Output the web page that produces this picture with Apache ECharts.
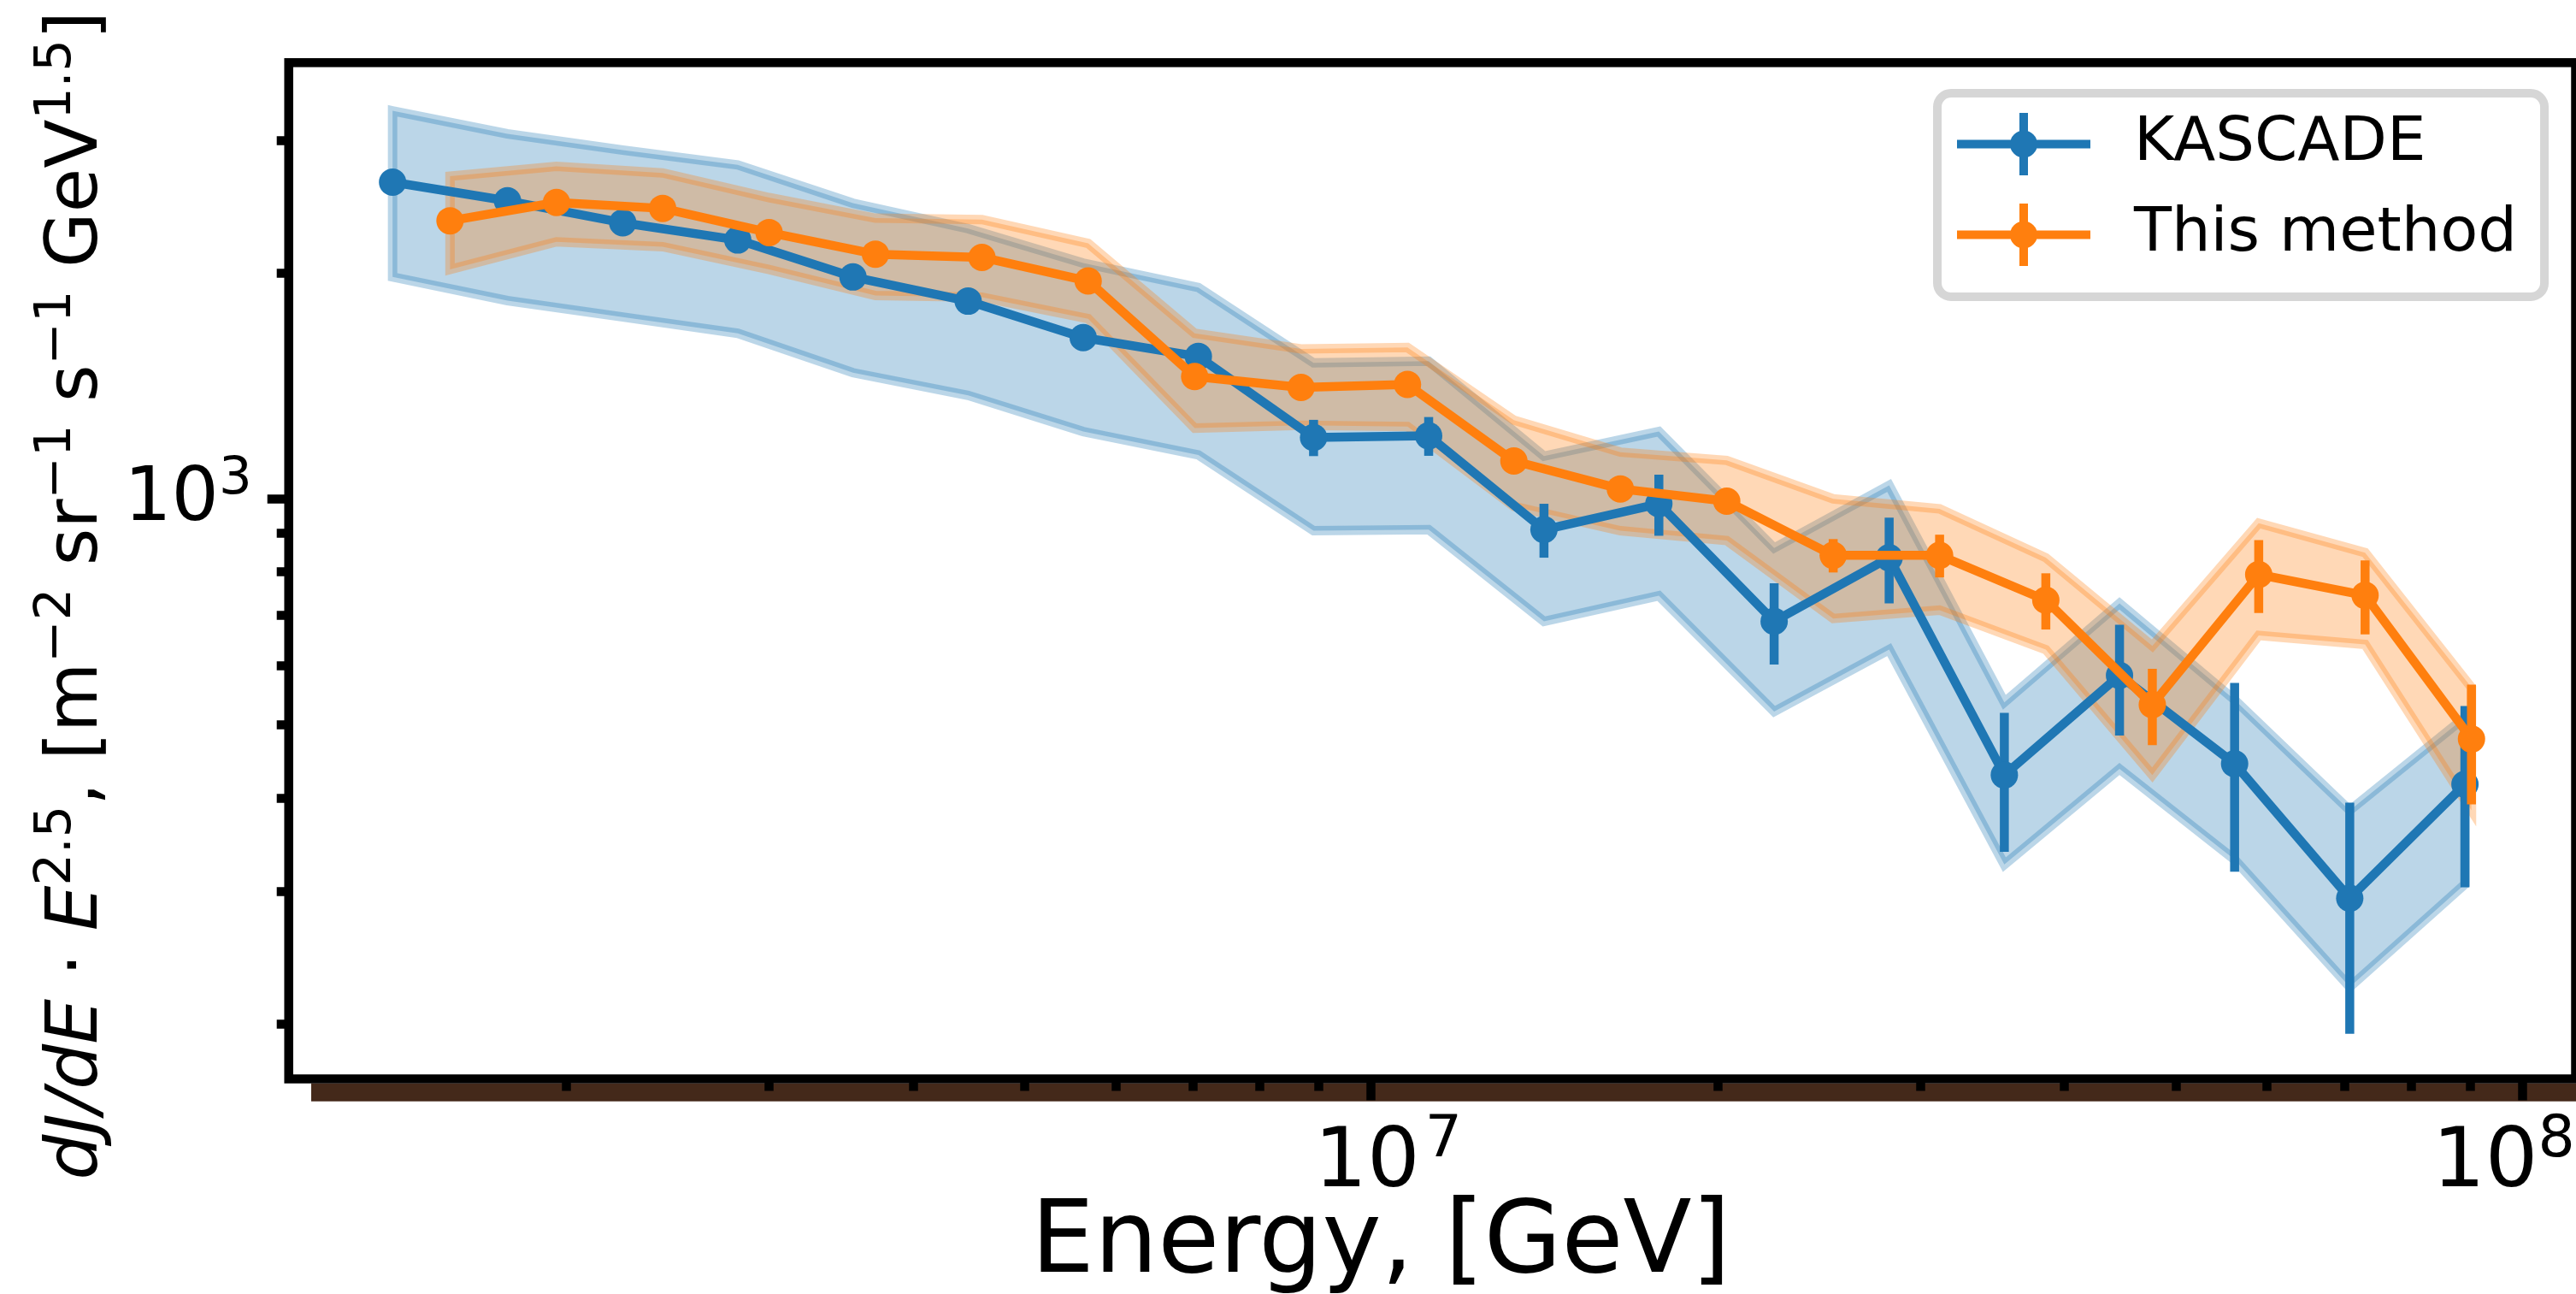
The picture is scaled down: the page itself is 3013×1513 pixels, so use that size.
<!DOCTYPE html>
<html>
<head>
<meta charset="utf-8">
<title>All-particle spectrum: KASCADE vs this method</title>
<script src="https://cdn.jsdelivr.net/npm/echarts@6/dist/echarts.min.js"></script>
<style>
  html, body { margin: 0; padding: 0; background: #ffffff; }
  #chart { width: 3013px; height: 1513px; }
</style>
</head>
<body>
<div id="chart"></div>
<script>
// KASCADE: bin energies (GeV), flux dJ/dE * E^2.5, statistical errors and systematic band
const kascadeEnergy = [1.413e6, 1.778e6, 2.239e6, 2.818e6, 3.548e6, 4.467e6, 5.623e6, 7.079e6, 8.913e6,
  1.122e7, 1.413e7, 1.778e7, 2.239e7, 2.818e7, 3.548e7, 4.467e7, 5.623e7, 7.079e7, 8.913e7];
const kascadeFlux = [2640, 2493, 2331, 2211, 1974, 1833, 1639, 1547, 1207, 1213, 910, 985, 687, 835, 429, 582, 444, 294, 417];
const kascadeErr = [16, 18, 20, 22, 25, 30, 35, 60, 67, 72, 75, 92, 85, 109, 90, 98, 125, 100, 113];
const kascadeBandHigh = [3285, 3061, 2912, 2783, 2475, 2289, 2060, 1911, 1517, 1525, 1140, 1229, 860, 1042, 536, 726, 540, 385, 512];
const kascadeBandLow = [1974, 1836, 1746, 1661, 1472, 1373, 1229, 1144, 907, 910, 687, 743, 521, 630, 326, 437, 331, 224, 307];

// This method: reconstructed spectrum with its own errors and band
const methodEnergy = [1.585e6, 1.961e6, 2.425e6, 3.000e6, 3.711e6, 4.592e6, 5.679e6, 7.027e6, 8.693e6, 1.0755e7,
  1.3305e7, 1.6462e7, 2.0365e7, 2.5196e7, 3.1171e7, 3.8548e7, 4.7698e7, 5.9007e7, 7.2995e7, 9.0302e7];
const methodFlux = [2345, 2480, 2436, 2262, 2117, 2096, 1950, 1455, 1407, 1420, 1123, 1031, 993, 841, 841, 733, 532, 793, 744, 479];
const methodErr = [20, 20, 20, 20, 20, 20, 20, 18, 18, 18, 18, 18, 18, 43, 55, 63, 62, 88, 84, 87];
const methodBandHigh = [2688, 2770, 2715, 2518, 2364, 2354, 2188, 1661, 1583, 1590, 1273, 1154, 1125, 1000, 970, 835, 637, 928, 848, 561];
const methodBandLow = [2020, 2199, 2166, 2020, 1865, 1855, 1737, 1242, 1253, 1248, 977, 907, 880, 693, 711, 630, 429, 658, 640, 385];

// Axis ranges and tick positions
const xRange = [1.148e6, 1.112e8];
const yRange = [169.0, 3807];
const xMajorTicks = [1e7, 1e8];
const xMinorTicks = [2e6, 3e6, 4e6, 5e6, 6e6, 7e6, 8e6, 9e6, 2e7, 3e7, 4e7, 5e7, 6e7, 7e7, 8e7, 9e7];
const yMajorTicks = [1e3];
const yMinorTicks = [200, 300, 400, 500, 600, 700, 800, 900, 2000, 3000];

const seriesNames = ['KASCADE', 'This method'];
const BLUE = '#1f77b4';
const ORANGE = '#ff7f0e';
const FONT = "'DejaVu Sans'";
const LW = 10.5;

const chart = echarts.init(document.getElementById('chart'), null, { renderer: 'canvas', devicePixelRatio: 1 });

// shaded band: upper edge left to right, then lower edge back
function bandSeries(name, energy, high, low, rgb) {
  return {
    name: name, type: 'custom', silent: true, z: 1,
    data: energy.map((e, i) => [e, high[i], low[i]]),
    encode: { x: 0, y: [1, 2] },
    renderItem: function (params, api) {
      if (params.dataIndex !== 0) return;
      const pts = [];
      for (let i = 0; i < energy.length; i++) pts.push(api.coord([energy[i], high[i]]));
      for (let i = energy.length - 1; i >= 0; i--) pts.push(api.coord([energy[i], low[i]]));
      return {
        type: 'polygon',
        shape: { points: pts },
        style: { fill: 'rgba(' + rgb + ',0.3)', stroke: 'rgba(' + rgb + ',0.3)', lineWidth: 11, lineJoin: 'miter' }
      };
    }
  };
}

// vertical error bars
function errorSeries(name, energy, flux, err, color, z) {
  return {
    name: name, type: 'custom', silent: true, z: z,
    data: energy.map((e, i) => [e, flux[i] - err[i], flux[i] + err[i]]),
    encode: { x: 0, y: [1, 2] },
    renderItem: function (params, api) {
      const a = api.coord([api.value(0), api.value(1)]);
      const b = api.coord([api.value(0), api.value(2)]);
      return {
        type: 'line',
        shape: { x1: a[0], y1: a[1], x2: b[0], y2: b[1] },
        style: { stroke: color, lineWidth: LW, lineCap: 'butt' }
      };
    }
  };
}

function lineSeries(name, energy, flux, color, z) {
  return {
    name: name, type: 'line', z: z,
    data: energy.map((e, i) => [e, flux[i]]),
    symbol: 'circle', symbolSize: 32, showSymbol: true,
    itemStyle: { color: color, borderWidth: 0 },
    lineStyle: { color: color, width: LW, join: 'round' },
    emphasis: { disabled: true }
  };
}

const xLabelRich = {
  bl: { fontFamily: FONT, fontSize: 97, lineHeight: 122, color: '#000', padding: [0, 0, 0, 40] },
  b: { fontFamily: FONT, fontSize: 97, lineHeight: 122, color: '#000' },
  s: { fontFamily: FONT, fontSize: 68, lineHeight: 46, verticalAlign: 'top', padding: [0, 0, 0, 6], color: '#000' },
  sr: { fontFamily: FONT, fontSize: 68, lineHeight: 46, verticalAlign: 'top', padding: [0, 44, 0, 0], color: '#000' }
};
const yLabelRich = {
  b: { fontFamily: FONT, fontSize: 87, lineHeight: 111, color: '#000' },
  s: { fontFamily: FONT, fontSize: 61, lineHeight: 43, verticalAlign: 'top', color: '#000' }
};
const yNameRich = {
  i: { fontFamily: FONT, fontSize: 83.5, fontStyle: 'italic', lineHeight: 110, color: '#000' },
  n: { fontFamily: FONT, fontSize: 83.5, lineHeight: 110, color: '#000' },
  s: { fontFamily: FONT, fontSize: 59, lineHeight: 66, verticalAlign: 'top', color: '#000' }
};
const xPowerLabel = v => {
  const p = Math.round(Math.log10(v));
  return p < 8 ? '{bl|10}{s|' + p + '}' : '{b|10}{sr|' + p + '}';
};
const yPowerLabel = v => '{b|10}{s|' + Math.round(Math.log10(v)) + '}';

const option = {
  animation: false,
  backgroundColor: '#ffffff',
  grid: {
    left: 337.7, top: 73.3, right: 0.5, bottom: 251.5,
    show: true, borderColor: '#000', borderWidth: LW, backgroundColor: 'transparent',
    outerBoundsMode: 'none', containLabel: false
  },
  legend: {
    data: seriesNames,
    orient: 'vertical',
    left: 2266, top: 109,
    padding: [23, 32, 36, 23],
    itemGap: 33,
    itemWidth: 156, itemHeight: 73,
    icon: 'path://M0 31.5H156V41.5H0Z M73 0H83V73H73Z M62 36.5A16 16 0 1 1 94 36.5A16 16 0 1 1 62 36.5Z',
    itemStyle: { borderWidth: 0 },
    textStyle: { fontFamily: FONT, fontSize: 72, color: '#000', padding: [0, 0, 0, 46] },
    backgroundColor: '#ffffff',
    borderColor: '#d6d6d6', borderWidth: 10, borderRadius: 16,
    selectedMode: false
  },
  xAxis: [
    {
      type: 'log', min: xRange[0], max: xRange[1], position: 'bottom',
      axisLine: { show: false }, splitLine: { show: false },
      axisTick: { show: true, customValues: xMajorTicks, length: 25, lineStyle: { color: '#000', width: LW } },
      axisLabel: { show: true, customValues: xMajorTicks, margin: 39, formatter: xPowerLabel, rich: xLabelRich },
      name: 'Energy, [GeV]', nameLocation: 'middle', nameGap: 130, nameMoveOverlap: false,
      nameTextStyle: { fontFamily: FONT, fontSize: 117, lineHeight: 130, color: '#000', padding: [0, 120, 0, 0] }
    },
    {
      type: 'log', min: xRange[0], max: xRange[1], position: 'bottom',
      axisLine: { show: false }, splitLine: { show: false },
      axisTick: { show: true, customValues: xMinorTicks, length: 14, lineStyle: { color: '#000', width: LW } },
      axisLabel: { show: false }
    }
  ],
  yAxis: [
    {
      type: 'log', min: yRange[0], max: yRange[1], position: 'left',
      axisLine: { show: false }, splitLine: { show: false },
      axisTick: { show: true, customValues: yMajorTicks, length: 25, lineStyle: { color: '#000', width: LW } },
      axisLabel: { show: true, customValues: yMajorTicks, margin: 43, padding: [5, 0, 0, 0], formatter: yPowerLabel, rich: yLabelRich },
      name: '{i|dJ/dE}{n| · }{i|E}{s|2.5}{n|, [m}{s|−2}{n| sr}{s|−1}{n| s}{s|−1}{n| GeV}{s|1.5}{n|]}',
      nameLocation: 'middle', nameRotate: 90, nameGap: 191, nameMoveOverlap: false,
      nameTextStyle: { padding: [0, 58, 0, 0], rich: yNameRich }
    },
    {
      type: 'log', min: yRange[0], max: yRange[1], position: 'left',
      axisLine: { show: false }, splitLine: { show: false },
      axisTick: { show: true, customValues: yMinorTicks, length: 14, lineStyle: { color: '#000', width: LW } },
      axisLabel: { show: false }
    }
  ],
  graphic: [
    {
      // dark strip under the energy axis
      type: 'rect', z: -1, silent: true,
      shape: { x: 364, y: 1266.7, width: 2649, height: 21 },
      style: { fill: '#44291a' }
    }
  ],
  series: [
    bandSeries('KASCADE band', kascadeEnergy, kascadeBandHigh, kascadeBandLow, '31,119,180'),
    bandSeries('This method band', methodEnergy, methodBandHigh, methodBandLow, '255,127,14'),
    errorSeries('KASCADE errors', kascadeEnergy, kascadeFlux, kascadeErr, BLUE, 2),
    lineSeries(seriesNames[0], kascadeEnergy, kascadeFlux, BLUE, 2),
    errorSeries('This method errors', methodEnergy, methodFlux, methodErr, ORANGE, 3),
    lineSeries(seriesNames[1], methodEnergy, methodFlux, ORANGE, 3)
  ]
};

chart.setOption(option);
</script>
</body>
</html>
